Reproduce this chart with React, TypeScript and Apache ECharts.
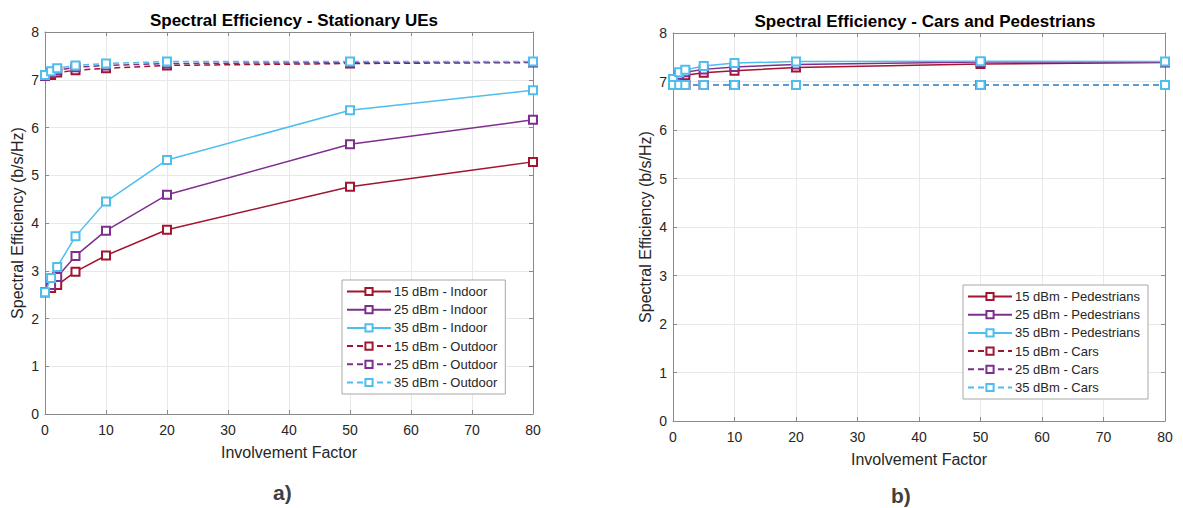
import React, { useEffect, useRef } from "react";
import * as echarts from "echarts";

const xValues = [0, 1, 2, 5, 10, 20, 50, 80];

const indoor15 = [2.55, 2.64, 2.70, 2.98, 3.32, 3.86, 4.76, 5.28];
const indoor25 = [2.55, 2.70, 2.87, 3.31, 3.84, 4.59, 5.65, 6.16];
const indoor35 = [2.55, 2.85, 3.08, 3.72, 4.45, 5.32, 6.36, 6.78];
const outdoor15 = [7.08, 7.10, 7.15, 7.20, 7.24, 7.30, 7.34, 7.36];
const outdoor25 = [7.08, 7.14, 7.20, 7.26, 7.30, 7.34, 7.36, 7.37];
const outdoor35 = [7.10, 7.18, 7.24, 7.30, 7.34, 7.38, 7.38, 7.38];

const ped15 = [7.05, 7.10, 7.13, 7.18, 7.22, 7.29, 7.36, 7.39];
const ped25 = [7.05, 7.14, 7.19, 7.25, 7.30, 7.35, 7.40, 7.40];
const ped35 = [7.05, 7.19, 7.24, 7.32, 7.38, 7.41, 7.42, 7.41];
const cars15 = [6.93, 6.93, 6.93, 6.93, 6.93, 6.93, 6.93, 6.93];
const cars25 = [6.93, 6.93, 6.93, 6.93, 6.93, 6.93, 6.93, 6.93];
const cars35 = [6.93, 6.93, 6.93, 6.93, 6.93, 6.93, 6.93, 6.93];

const leftNames = [
  "15 dBm - Indoor",
  "25 dBm - Indoor",
  "35 dBm - Indoor",
  "15 dBm - Outdoor",
  "25 dBm - Outdoor",
  "35 dBm - Outdoor",
];
const rightNames = [
  "15 dBm - Pedestrians",
  "25 dBm - Pedestrians",
  "35 dBm - Pedestrians",
  "15 dBm - Cars",
  "25 dBm - Cars",
  "35 dBm - Cars",
];

const RED = "#A2142F";
const PURPLE = "#7E2F8E";
const BLUE = "#4DBEEE";
const TEXT = "#262626";
const AXIS = "#8a8a8a";
const GRID = "#e8e8e8";
const FONT = "Liberation Sans, Arial, sans-serif";

function mkSeries(name: string, data: number[], color: string, dashed: boolean, idx: number, z: number) {
  return {
    type: "line",
    name,
    xAxisIndex: idx,
    yAxisIndex: idx,
    data: xValues.map((x, i) => [x, data[i]]),
    symbol: "emptyRect",
    symbolSize: 8,
    z,
    lineStyle: { color, width: 1.5, type: dashed ? [6, 4] : "solid" },
    itemStyle: { color, borderColor: color, borderWidth: 1.5 },
  };
}

function mkX(gridIndex: number, name: string, nameGap: number) {
  return {
    type: "value",
    gridIndex,
    min: 0,
    max: 80,
    interval: 10,
    name,
    nameLocation: "middle",
    nameGap,
    nameTextStyle: { color: TEXT, fontSize: 16, fontFamily: FONT },
    axisLine: { show: true, onZero: false, lineStyle: { color: AXIS, width: 1 } },
    axisTick: { show: true, inside: true, length: 4, lineStyle: { color: AXIS } },
    axisLabel: { color: TEXT, fontSize: 14, fontFamily: FONT, margin: 9 },
    splitLine: { show: true, lineStyle: { color: GRID, width: 1 } },
  };
}
function mkXTop(gridIndex: number) {
  return {
    type: "value",
    gridIndex,
    position: "top",
    min: 0,
    max: 80,
    interval: 10,
    axisLine: { show: true, onZero: false, lineStyle: { color: AXIS, width: 1 } },
    axisTick: { show: true, inside: true, length: 4, lineStyle: { color: AXIS } },
    axisLabel: { show: false },
    splitLine: { show: false },
  };
}
function mkY(gridIndex: number, name: string) {
  return {
    type: "value",
    gridIndex,
    min: 0,
    max: 8,
    interval: 1,
    name,
    nameLocation: "middle",
    nameGap: 20,
    nameTextStyle: { color: TEXT, fontSize: 16, fontFamily: FONT },
    axisLine: { show: true, onZero: false, lineStyle: { color: AXIS, width: 1 } },
    axisTick: { show: true, inside: true, length: 4, lineStyle: { color: AXIS } },
    axisLabel: { color: TEXT, fontSize: 14, fontFamily: FONT, margin: 6 },
    splitLine: { show: true, lineStyle: { color: GRID, width: 1 } },
  };
}
function mkYRight(gridIndex: number) {
  return {
    type: "value",
    gridIndex,
    position: "right",
    min: 0,
    max: 8,
    interval: 1,
    axisLine: { show: true, onZero: false, lineStyle: { color: AXIS, width: 1 } },
    axisTick: { show: true, inside: true, length: 4, lineStyle: { color: AXIS } },
    axisLabel: { show: false },
    splitLine: { show: false },
  };
}

function mkLegend(names: string[], left: number, top: number) {
  return {
    data: names,
    orient: "vertical",
    left,
    top,
    itemWidth: 44,
    itemHeight: 9,
    itemGap: 5.2,
    padding: [5, 8, 5, 4],
    backgroundColor: "#ffffff",
    borderColor: "#a8a8a8",
    borderWidth: 1,
    borderRadius: 0,
    textStyle: { color: TEXT, fontSize: 13, fontFamily: FONT, padding: [0, 0, 0, -2] },
  };
}

export default function App() {
  const ref = useRef<HTMLDivElement>(null);
  useEffect(() => {
    document.body.style.margin = "0";
    if (!ref.current) return;
    const chart = echarts.init(ref.current, undefined, { renderer: "svg" });
    const option = {
      animation: false,
      backgroundColor: "#ffffff",
      title: [
        {
          text: "Spectral Efficiency - Stationary UEs",
          left: 289,
          top: 7,
          textAlign: "center",
          textStyle: { color: "#000", fontSize: 17, fontWeight: "bold", fontFamily: FONT },
        },
        {
          text: "Spectral Efficiency - Cars and Pedestrians",
          left: 920,
          top: 8,
          textAlign: "center",
          textStyle: { color: "#000", fontSize: 17, fontWeight: "bold", fontFamily: FONT },
        },
      ],
      grid: [
        { left: 45, top: 32, width: 488, height: 382 },
        { left: 673, top: 33, width: 492, height: 388 },
      ],
      xAxis: [mkX(0, "Involvement Factor", 30), mkX(1, "Involvement Factor", 30), mkXTop(0), mkXTop(1)],
      yAxis: [
        mkY(0, "Spectral Efficiency (b/s/Hz)"),
        mkY(1, "Spectral Efficiency (b/s/Hz)"),
        mkYRight(0),
        mkYRight(1),
      ],
      legend: [mkLegend(leftNames, 342, 280), mkLegend(rightNames, 963, 285)],
      series: [
        mkSeries(leftNames[0], indoor15, RED, false, 0, 2),
        mkSeries(leftNames[1], indoor25, PURPLE, false, 0, 3),
        mkSeries(leftNames[2], indoor35, BLUE, false, 0, 4),
        mkSeries(leftNames[3], outdoor15, RED, true, 0, 5),
        mkSeries(leftNames[4], outdoor25, PURPLE, true, 0, 6),
        mkSeries(leftNames[5], outdoor35, BLUE, true, 0, 7),
        mkSeries(rightNames[0], ped15, RED, false, 1, 2),
        mkSeries(rightNames[1], ped25, PURPLE, false, 1, 3),
        mkSeries(rightNames[2], ped35, BLUE, false, 1, 4),
        mkSeries(rightNames[3], cars15, RED, true, 1, 5),
        mkSeries(rightNames[4], cars25, PURPLE, true, 1, 6),
        mkSeries(rightNames[5], cars35, BLUE, true, 1, 7),
      ],
      graphic: [
        {
          type: "text",
          left: 273,
          top: 482,
          style: { text: "a)", fill: "#404040", font: "bold 21px " + FONT },
        },
        {
          type: "text",
          left: 891,
          top: 485,
          style: { text: "b)", fill: "#404040", font: "bold 21px " + FONT },
        },
      ],
    };
    chart.setOption(option as any);
    return () => chart.dispose();
  }, []);
  return <div ref={ref} style={{ width: 1183, height: 508 }} />;
}
